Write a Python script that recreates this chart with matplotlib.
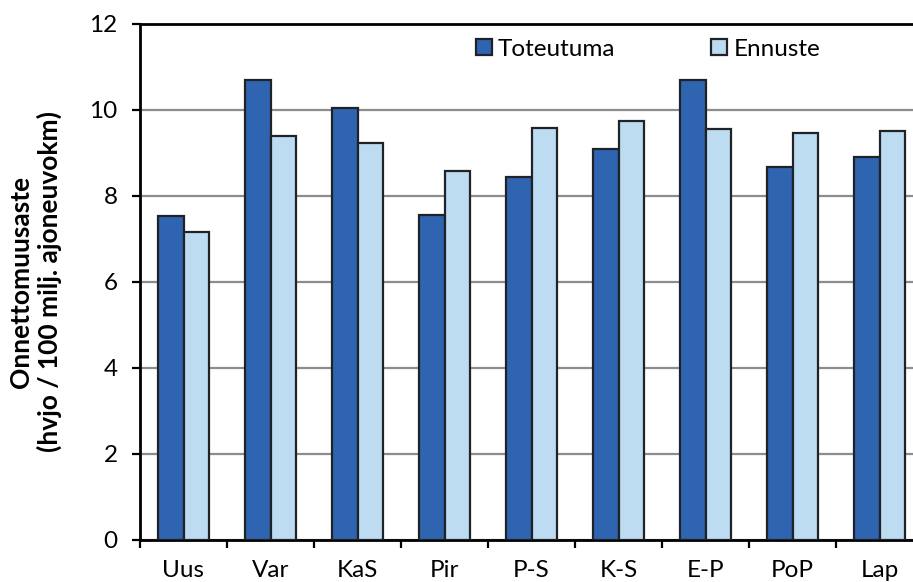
import numpy as np
import matplotlib.pyplot as plt
from matplotlib.patches import Patch

plt.rcParams['font.family'] = ['Lato', 'DejaVu Sans']

# regions and accident rates (hvjo / 100 milj. ajoneuvokm)
regions = ['Uus', 'Var', 'KaS', 'Pir', 'P-S', 'K-S', 'E-P', 'PoP', 'Lap']
toteutuma = [7.53, 10.69, 10.05, 7.55, 8.45, 9.08, 10.70, 8.66, 8.91]
ennuste = [7.16, 9.39, 9.22, 8.58, 9.58, 9.74, 9.56, 9.47, 9.50]

dark = '#2f64b0'
light = '#bddcf2'
edge = '#1f2328'

fig = plt.figure(figsize=(9.13, 5.82), dpi=100)
# axes run a little past the right edge of the figure
ax = fig.add_axes([140 / 913, 42.5 / 582, 783 / 913, 515.5 / 582])

x = np.arange(len(regions))
w = 0.29
ax.bar(x - w / 2, toteutuma, w, color=dark, edgecolor=edge, linewidth=1.6, zorder=3)
ax.bar(x + w / 2, ennuste, w, color=light, edgecolor=edge, linewidth=1.6, zorder=3)

ax.set_xlim(-0.5, len(regions) - 0.5)
ax.set_ylim(0, 12)
ax.set_yticks(np.arange(0, 13, 2))
ax.yaxis.grid(True, color='#8c8c8c', linewidth=1.6, zorder=0)
ax.set_axisbelow(True)

# category labels centred, tick marks between categories
ax.set_xticks(x)
ax.set_xticklabels(regions, fontsize=17.5)
ax.set_xticks(np.arange(-0.5, len(regions), 1.0), minor=True)
ax.tick_params(axis='x', which='major', length=0, pad=15)
ax.tick_params(axis='x', which='minor', length=6, width=1.6, direction='out', color='black')
ax.tick_params(axis='y', length=6, width=1.6, direction='out', labelsize=17.5, pad=10, color='black')

for s in ['left', 'bottom', 'top']:
    ax.spines[s].set_linewidth(2)
    ax.spines[s].set_color('black')
ax.spines['right'].set_visible(False)

ax.set_ylabel('Onnettomuusaste\n(hvjo / 100 milj. ajoneuvokm)', fontsize=19,
              fontweight='bold', labelpad=20, linespacing=1.15)

handles = [Patch(facecolor=dark, edgecolor=edge, linewidth=1.6),
           Patch(facecolor=light, edgecolor=edge, linewidth=1.6)]
ax.legend(handles, ['Toteutuma', 'Ennuste'], ncol=2, frameon=False, fontsize=17.5,
          loc='center left', bbox_to_anchor=(476 / 913, 1 - 49 / 582),
          bbox_transform=fig.transFigure, handlelength=0.65, handleheight=0.65,
          handletextpad=0.25, columnspacing=3.95, borderpad=0, borderaxespad=0)

fig.savefig('out.png', dpi=100)
